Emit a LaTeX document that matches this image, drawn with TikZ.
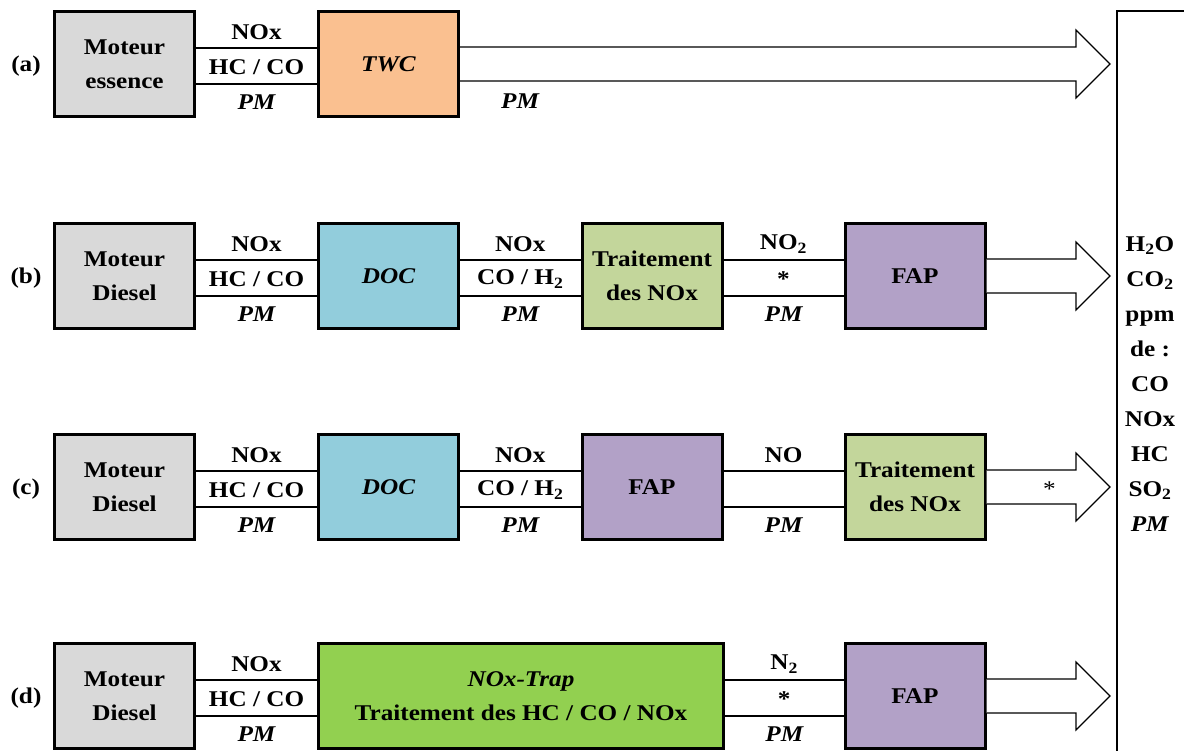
\documentclass[tikz,border=0pt]{standalone}
\usepackage{fontspec}
\setmainfont{Liberation Serif}[FakeStretch=1.12]
\usetikzlibrary{calc}
\definecolor{gris}{HTML}{D9D9D9}
\definecolor{coultwc}{HTML}{FAC090}
\definecolor{couldoc}{HTML}{92CDDC}
\definecolor{coultrait}{HTML}{C3D69B}
\definecolor{coulfap}{HTML}{B2A1C7}
\definecolor{coultrap}{HTML}{92D050}
% two gas lines between blocks, with their three labels
\newcommand{\gaz}[5]{%
  \draw[flux] ($(#1.east)+(0,-16)$) -- ($(#2.west)+(0,-16)$);
  \draw[flux] ($(#1.east)+(0,20)$) -- ($(#2.west)+(0,20)$);
  \node (#1-h) at ($(#1.east)!0.5!(#2.west)+(0,-32)$) {#3};
  \node (#1-m) at ($(#1.east)!0.5!(#2.west)+(0,3)$) {#4};
  \node (#1-b) at ($(#1.east)!0.5!(#2.west)+(0,38)$) {#5};}
% block arrow towards the exhaust
\newcommand{\sortie}[1]{%
  \coordinate (#1-pointe) at (#1.east -| pointe);
  \draw[fleche] ($(#1.east)+(0,-17)$) -- ($(#1-pointe)+(-34,-17)$) -- ($(#1-pointe)+(-34,-34)$)
    -- (#1-pointe) -- ($(#1-pointe)+(-34,34)$) -- ($(#1-pointe)+(-34,17)$) -- ($(#1.east)+(0,17)$);}

\begin{document}
\begin{tikzpicture}[x=1pt,y=-1pt,font=\fontsize{22.5}{34}\selectfont\bfseries,
  bloc/.style={draw,line width=3pt,minimum width=140pt,minimum height=105pt,align=center,inner sep=0pt},
  flux/.style={line width=1.8pt},
  fleche/.style={draw,line width=1.2pt,fill=white}]
\useasboundingbox (0,0) rectangle (1184,751);
\coordinate (pointe) at (1110,0);

% (a)
\node (la) at (26,66) {(a)};
\node[bloc,fill=gris] (ma) at (124.5,64) {Moteur\\essence};
\node[bloc,fill=coultwc] (twc) at (388.5,64) {\itshape TWC};
\gaz{ma}{twc}{NOx}{HC / CO}{\itshape PM}
\sortie{twc}
\node (pma) at ($(twc.east)+(60,37)$) {\itshape PM};

% (b)
\node (lb) at (26,278) {(b)};
\node[bloc,fill=gris] (mb) at (124.5,276) {Moteur\\Diesel};
\node[bloc,fill=couldoc] (docb) at (388.5,276) {\itshape DOC};
\node[bloc,fill=coultrait] (trb) at (652,276) {Traitement\\des NOx};
\node[bloc,fill=coulfap] (fapb) at (915,276) {FAP};
\gaz{mb}{docb}{NOx}{HC / CO}{\itshape PM}
\gaz{docb}{trb}{NOx}{CO / H\textsubscript{2}}{\itshape PM}
\gaz{trb}{fapb}{NO\textsubscript{2}}{*}{\itshape PM}
\sortie{fapb}

% (c)
\node (lc) at (26,489) {(c)};
\node[bloc,fill=gris] (mc) at (124.5,487) {Moteur\\Diesel};
\node[bloc,fill=couldoc] (docc) at (388.5,487) {\itshape DOC};
\node[bloc,fill=coulfap] (fapc) at (652,487) {FAP};
\node[bloc,fill=coultrait] (trc) at (915,487) {Traitement\\des NOx};
\gaz{mc}{docc}{NOx}{HC / CO}{\itshape PM}
\gaz{docc}{fapc}{NOx}{CO / H\textsubscript{2}}{\itshape PM}
\gaz{fapc}{trc}{NO}{}{\itshape PM}
\sortie{trc}
\node (etc) at ($(trc.east)+(63,2)$) {\mdseries *};

% (d)
\node (ld) at (26,698) {(d)};
\node[bloc,fill=gris] (md) at (124.5,696) {Moteur\\Diesel};
\node[bloc,fill=coultrap,minimum width=405pt] (trap) at (521,696) {\itshape NOx-Trap\\Traitement des HC / CO / NOx};
\node[bloc,fill=coulfap] (fapd) at (915,696) {FAP};
\gaz{md}{trap}{NOx}{HC / CO}{\itshape PM}
\gaz{trap}{fapd}{N\textsubscript{2}}{*}{\itshape PM}
\sortie{fapd}

% rejets
\draw[line width=2pt] (1184,11) -- (1117,11) -- (1117,751);
\node[align=center,font=\fontsize{22.5}{35}\selectfont\bfseries] (rejets) at (1150,384)
  {H\textsubscript{2}O\\CO\textsubscript{2}\\ppm\\de :\\CO\\NOx\\HC\\SO\textsubscript{2}\\\textit{PM}};
\end{tikzpicture}
\end{document}
